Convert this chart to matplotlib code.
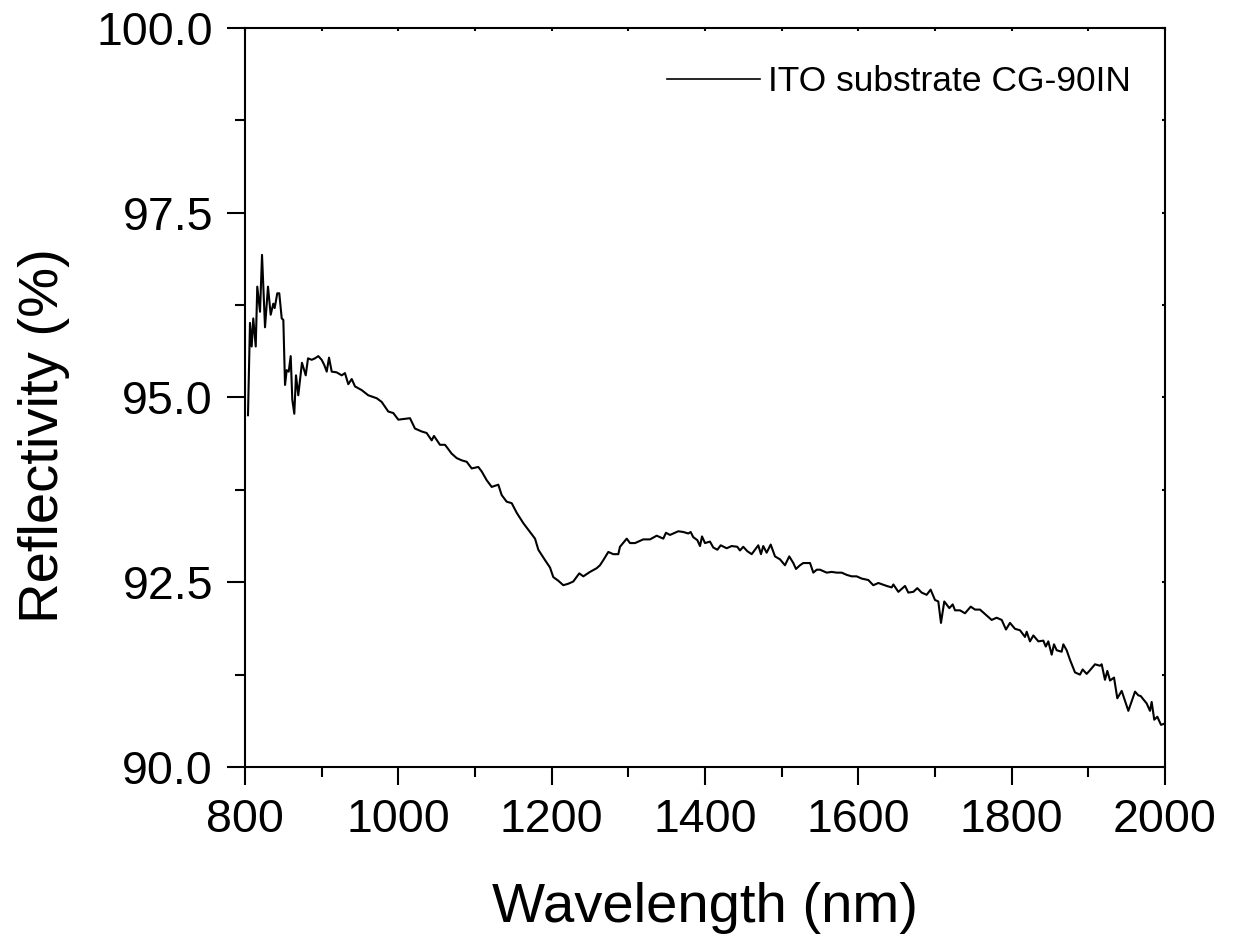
import matplotlib
matplotlib.use("Agg")
import matplotlib.pyplot as plt
from matplotlib.ticker import MultipleLocator

plt.rcParams['font.family'] = ['Liberation Sans', 'DejaVu Sans']

wavelength = [
    803.9, 806.5, 808.7, 810.8, 814.0, 816.0, 819.6, 822.2, 826.1, 830.0,
    833.5, 836.9, 838.7, 842.1, 844.7, 847.9, 850.0, 852.2, 854.4, 857.0,
    859.6, 861.7, 864.3, 866.5, 869.5, 874.3, 879.2, 882.2, 887.0, 891.3,
    895.6, 900.0, 903.4, 906.6, 909.6, 913.1, 919.6, 926.1, 930.4, 934.7,
    939.2, 943.5, 952.2, 960.8, 971.8, 978.3, 986.9, 993.4, 1000.0,
    1015.2, 1021.7, 1030.5, 1036.9, 1043.5, 1046.5, 1054.3, 1060.9, 1069.6, 1076.1,
    1082.6, 1089.2, 1095.7, 1104.3, 1108.7, 1115.3, 1121.8, 1130.4, 1134.8, 1141.3,
    1147.9, 1154.4, 1163.0, 1171.7, 1178.3, 1182.6, 1191.3, 1197.8, 1202.1, 1208.7,
    1215.2, 1221.7, 1228.2, 1236.0, 1241.3, 1250.0, 1258.7, 1263.0, 1267.4, 1273.9,
    1280.4, 1286.9, 1289.1, 1297.9, 1302.2, 1308.7, 1319.5, 1328.3, 1337.0, 1345.6,
    1349.1, 1354.3, 1365.2,
    1371.7, 1378.2, 1381.3, 1384.7, 1390.0, 1393.5, 1396.1, 1400.0, 1406.5, 1410.8,
    1416.1, 1420.5, 1428.3, 1434.8, 1442.1, 1445.6, 1449.9, 1455.2, 1460.9, 1469.5,
    1473.0, 1476.0, 1480.4, 1485.7, 1491.3, 1497.8, 1504.3, 1509.9, 1515.2, 1518.7,
    1523.9, 1528.2, 1537.0, 1541.3, 1545.7, 1550.0, 1558.7, 1565.2, 1571.7, 1578.3,
    1584.8, 1591.3, 1597.8, 1604.3, 1613.0, 1619.5, 1626.1, 1637.0, 1643.5, 1645.7,
    1652.2, 1660.9, 1665.2, 1671.7, 1676.9, 1682.6, 1689.1, 1694.3, 1700.0, 1704.3,
    1707.8, 1712.1, 1718.7, 1723.1, 1726.1,
    1732.6, 1739.1, 1746.6, 1752.2, 1758.7, 1767.4, 1773.9, 1780.4, 1787.0, 1792.6,
    1797.8, 1804.3, 1810.9, 1817.4, 1819.6, 1823.9, 1828.3, 1834.8, 1841.3, 1844.5,
    1847.8, 1852.2, 1855.2, 1858.7, 1865.2, 1867.4, 1871.7, 1876.1, 1882.6, 1889.1,
    1892.6, 1897.8, 1902.2, 1908.7, 1915.2, 1917.4, 1921.7, 1924.8, 1928.3, 1933.5,
    1937.8, 1943.5, 1952.2, 1960.9, 1965.2, 1968.3, 1976.1, 1980.4, 1982.6, 1986.0,
    1990.0, 1994.8, 2000.0,
]

reflectivity = [
    94.76, 96.01, 95.69, 96.07, 95.69, 96.50, 96.16, 96.93, 95.95, 96.50,
    96.12, 96.27, 96.21, 96.41, 96.41, 96.07, 96.05, 95.17, 95.37, 95.35,
    95.56, 94.97, 94.78, 95.30, 95.03, 95.47, 95.30, 95.53, 95.51, 95.53,
    95.56, 95.51, 95.44, 95.35, 95.54, 95.35, 95.34, 95.30, 95.33, 95.18,
    95.25, 95.15, 95.10, 95.03, 94.99, 94.94, 94.81, 94.79, 94.70,
    94.72, 94.58, 94.54, 94.52, 94.42, 94.48, 94.36, 94.36, 94.24, 94.18,
    94.15, 94.13, 94.04, 94.06, 94.00, 93.88, 93.79, 93.82, 93.68, 93.59,
    93.57, 93.44, 93.30, 93.18, 93.09, 92.94, 92.80, 92.70, 92.57, 92.52,
    92.46, 92.48, 92.51, 92.62, 92.58, 92.64, 92.69, 92.73, 92.80, 92.91,
    92.88, 92.88, 92.98, 93.09, 93.03, 93.03, 93.08, 93.08, 93.13, 93.09,
    93.17, 93.14, 93.19,
    93.18, 93.16, 93.18, 93.11, 93.07, 92.99, 93.12, 93.03, 93.05, 92.97,
    92.94, 93.00, 92.96, 92.99, 92.98, 92.93, 92.98, 92.92, 92.88, 93.00,
    92.88, 92.99, 92.90, 93.01, 92.85, 92.81, 92.73, 92.85, 92.76, 92.68,
    92.73, 92.76, 92.76, 92.63, 92.67, 92.67, 92.63, 92.64, 92.63, 92.63,
    92.60, 92.58, 92.58, 92.55, 92.53, 92.46, 92.49, 92.45, 92.43, 92.47,
    92.37, 92.45, 92.36, 92.37, 92.42, 92.36, 92.33, 92.40, 92.26, 92.24,
    91.95, 92.24, 92.15, 92.20, 92.12,
    92.12, 92.08, 92.17, 92.13, 92.13, 92.05, 91.99, 92.02, 91.99, 91.86,
    91.95, 91.87, 91.85, 91.76, 91.83, 91.70, 91.78, 91.70, 91.71, 91.63,
    91.70, 91.52, 91.66, 91.58, 91.56, 91.66, 91.58, 91.45, 91.28, 91.25,
    91.32, 91.26, 91.31, 91.39, 91.37, 91.39, 91.18, 91.30, 91.17, 91.21,
    90.93, 91.03, 90.76, 91.02, 90.97, 90.96, 90.86, 90.76, 90.88, 90.64,
    90.68, 90.57, 90.59,
]

series_label = "ITO substrate CG-90IN"
x_ticks = [800, 1000, 1200, 1400, 1600, 1800, 2000]
y_ticks = [90.0, 92.5, 95.0, 97.5, 100.0]

fig = plt.figure(figsize=(12.35, 9.43), dpi=100)
ax = fig.add_axes([245 / 1235, 1 - 767 / 943, 920 / 1235, 739 / 943])

ax.plot(wavelength, reflectivity, color='black', lw=1.5, label=series_label)

ax.set_xlim(800, 2000)
ax.set_ylim(90, 100)
ax.set_xticks(x_ticks)
ax.set_yticks(y_ticks)
ax.set_yticklabels([f"{v:.1f}" for v in y_ticks])
ax.xaxis.set_minor_locator(MultipleLocator(100))
ax.yaxis.set_minor_locator(MultipleLocator(1.25))

for s in ax.spines.values():
    s.set_linewidth(1.5)

ax.tick_params(axis='both', which='major', direction='out', length=13, width=1.5,
               labelsize=33.5, pad=9)
ax.tick_params(axis='both', which='minor', direction='out', length=7, width=1.5)
ax.tick_params(axis='y', which='major', pad=10)
ax.tick_params(top=True, right=True, which='both')
# short inward ticks on top and right
for t in ax.xaxis.get_major_ticks() + ax.xaxis.get_minor_ticks():
    t.tick2line.set_markersize(2)
    t.tick2line.set_marker(3)
for t in ax.yaxis.get_major_ticks() + ax.yaxis.get_minor_ticks():
    t.tick2line.set_markersize(2)
    t.tick2line.set_marker(0)

ax.set_xlabel("Wavelength (nm)", fontsize=40.5)
ax.xaxis.set_label_coords(0.5, -0.155)
ax.set_ylabel("Reflectivity (%)", fontsize=40.5)
ax.yaxis.set_label_coords(-0.19, 0.449)

leg = ax.legend(loc='center right', bbox_to_anchor=(0.963, 0.927), frameon=False,
                fontsize=25.5, handlelength=2.63, handletextpad=0.23,
                borderpad=0, borderaxespad=0)
for line in leg.get_lines():
    line.set_linewidth(1.2)

fig.savefig("out.png", dpi=100)
